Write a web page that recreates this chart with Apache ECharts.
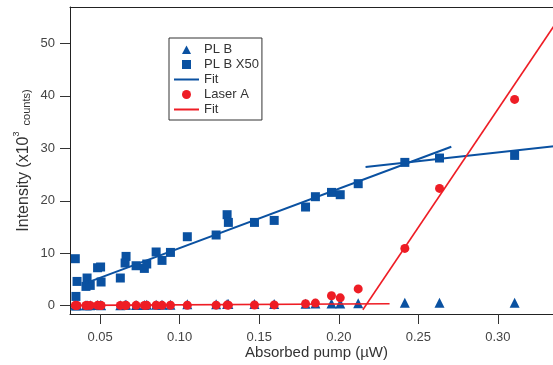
<!DOCTYPE html>
<html><head><meta charset="utf-8">
<script src="https://cdn.jsdelivr.net/npm/echarts@6/dist/echarts.min.js"></script>
<style>html,body{margin:0;padding:0;background:#fff;overflow:hidden}#c{width:563px;height:365px}</style>
</head><body><div id="c"></div>
<script>
// Absorbed pump (µW)
const pump = [0.0344,0.0355,0.0348,0.0418,0.0411,0.0438,0.0484,0.0503,0.0506,0.0627,0.0663,0.0657,0.0726,0.0778,0.0793,0.0852,0.0889,0.0942,0.1048,0.1229,0.1298,0.1306,0.1470,0.1594,0.1791,0.1853,0.1954,0.2009,0.2122,0.2415,0.2633,0.3105];
// Intensity (x10^3 counts)
const plB = [0.18,0.09,0.04,0.11,0.07,0.08,0.14,0.15,0.09,0.11,0.19,0.16,0.15,0.14,0.16,0.20,0.17,0.20,0.26,0.27,0.35,0.32,0.32,0.33,0.38,0.42,0.43,0.42,0.47,0.55,0.56,0.57];
const plBx50 = [8.96,4.63,1.77,5.28,3.68,3.87,7.24,7.38,4.52,5.28,9.40,8.14,7.62,7.11,7.95,10.24,8.64,10.16,13.15,13.48,17.35,15.88,15.88,16.26,18.81,20.78,21.60,21.16,23.26,27.32,28.15,28.65];
const laserA = [0.06,0.05,0.07,0.06,0.05,0.06,0.07,0.06,0.05,0.06,0.07,0.06,0.07,0.06,0.07,0.08,0.07,0.08,0.09,0.10,0.12,0.11,0.13,0.15,0.38,0.50,1.90,1.50,3.20,10.92,22.36,39.33];
// Fit lines [x, y] endpoints
const fitB1 = [[0.0418,4.40],[0.2707,30.31]];
const fitB2 = [[0.2168,26.44],[0.3409,30.60]];
const fitA1 = [[0.0344,0.06],[0.2319,0.38]];
const fitA2 = [[0.2151,-0.76],[0.3409,55.90]];
// Axis ticks
const xTicks = [0.05,0.10,0.15,0.20,0.25,0.30];
const yTicks = [0,10,20,30,40,50];

const BLUE = '#0a51a1', RED = '#ee1d25';
const pts = (xs, ys) => xs.map((x, i) => [x, ys[i]]);
const font = '"Liberation Sans", Arial, Helvetica, sans-serif';

// legend icons (25 x 10 box)
const ICON_TRI = 'path://M0,0 M25,10 M8,9.5 L12.5,1 L17,9.5 Z';
const ICON_SQ = 'path://M0,0 M25,10 M8,0.5 L17,0.5 L17,9.5 L8,9.5 Z';
const ICON_CIRC = 'path://M0,0 M25,10 M8,5 A4.5,4.5 0 1,0 17,5 A4.5,4.5 0 1,0 8,5 Z';
const ICON_LINE = 'path://M0,0 M25,10 M0,4 L25,4 L25,6 L0,6 Z';

const chart = echarts.init(document.getElementById('c'), null, {renderer: 'canvas'});
chart.setOption({
  animation: false,
  textStyle: {fontFamily: font},
  grid: {left: 70, top: 7, right: 0, bottom: 51, containLabel: false},
  legend: {
    orient: 'vertical', left: 169, top: 38,
    padding: [5, 3, 4, 5],
    itemWidth: 25, itemHeight: 10, itemGap: 2,
    borderColor: '#333', borderWidth: 1,
    textStyle: {fontSize: 13, color: '#333', fontFamily: font, lineHeight: 13},
    data: [
      {name: 'PL B', icon: ICON_TRI, itemStyle: {color: BLUE, opacity: 1}},
      {name: 'PL B X50', icon: ICON_SQ, itemStyle: {color: BLUE, opacity: 1}},
      {name: 'Fit', icon: ICON_LINE, itemStyle: {color: BLUE, opacity: 1}},
      {name: 'Laser A', icon: ICON_CIRC, itemStyle: {color: RED, opacity: 1}},
      {name: 'Fit ', icon: ICON_LINE, itemStyle: {color: RED, opacity: 1}}
    ],
    selectedMode: false
  },
  xAxis: [{
    type: 'value', min: 0.03107, max: 0.3409, position: 'bottom',
    name: 'Absorbed pump (µW)', nameLocation: 'middle', nameGap: 31, nameMoveOverlap: false,
    nameTextStyle: {fontSize: 15, color: '#333', fontFamily: font},
    axisLine: {show: true, onZero: false, lineStyle: {color: '#222', width: 1}},
    axisTick: {show: true, inside: false, length: 10, customValues: xTicks, lineStyle: {color: '#333'}},
    axisLabel: {show: true, margin: 17, fontSize: 13, color: '#444', customValues: xTicks,
      formatter: v => v.toFixed(2)},
    splitLine: {show: false}
  }, {
    type: 'value', min: 0.03107, max: 0.3409, position: 'top',
    axisLine: {show: true, onZero: false, lineStyle: {color: '#222', width: 1}},
    axisTick: {show: false}, axisLabel: {show: false}, splitLine: {show: false}
  }],
  yAxis: {
    type: 'value', min: -1.58, max: 56.94,
    name: '{a|Intensity (x10}{b|3}{c|  counts)}', nameLocation: 'middle', nameGap: 38, nameRotate: 90,
    nameMoveOverlap: false,
    nameTextStyle: {
      color: '#333',
      rich: {
        a: {fontSize: 16, color: '#333', fontFamily: font, verticalAlign: 'bottom', lineHeight: 20},
        b: {fontSize: 9, color: '#333', fontFamily: font, verticalAlign: 'top', lineHeight: 20},
        c: {fontSize: 11, color: '#333', fontFamily: font, verticalAlign: 'bottom', lineHeight: 20}
      }
    },
    axisLine: {show: true, onZero: false, lineStyle: {color: '#222', width: 1}},
    axisTick: {show: true, inside: false, length: 10, customValues: yTicks, lineStyle: {color: '#333'}},
    axisLabel: {show: true, margin: 15, fontSize: 13, color: '#444', customValues: yTicks},
    splitLine: {show: false}
  },
  series: [
    {name: 'PL B', type: 'scatter', symbol: 'triangle', symbolSize: 10,
      itemStyle: {color: BLUE, opacity: 1}, data: pts(pump, plB), z: 2},
    {name: 'PL B X50', type: 'scatter', symbol: 'rect', symbolSize: 9,
      itemStyle: {color: BLUE, opacity: 1}, data: pts(pump, plBx50), z: 2},
    {name: 'Fit', type: 'line', symbol: 'none', data: fitB1, lineStyle: {color: BLUE, width: 2}, itemStyle: {color: BLUE}, z: 3},
    {name: 'FitB2', type: 'line', symbol: 'none', data: fitB2, lineStyle: {color: BLUE, width: 2}, itemStyle: {color: BLUE}, z: 3},
    {name: 'Laser A', type: 'scatter', symbol: 'circle', symbolSize: 9,
      itemStyle: {color: RED, opacity: 1}, data: pts(pump, laserA), z: 4},
    {name: 'Fit ', type: 'line', symbol: 'none', data: fitA1, lineStyle: {color: RED, width: 1.6}, itemStyle: {color: RED}, z: 5},
    {name: 'FitA2', type: 'line', symbol: 'none', data: fitA2, lineStyle: {color: RED, width: 1.6}, itemStyle: {color: RED}, z: 5}
  ]
});
</script></body></html>
